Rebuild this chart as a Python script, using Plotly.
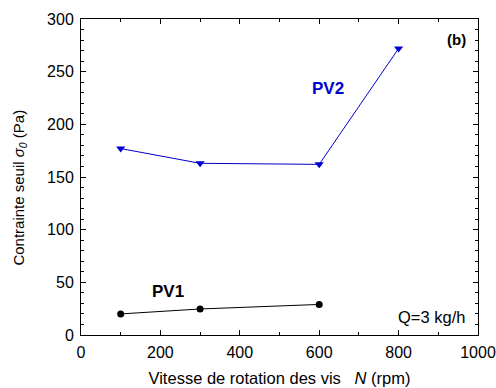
import plotly.graph_objects as go

N_pv1 = [100, 300, 600]
sigma_pv1 = [20, 24.7, 29]
N_pv2 = [100, 300, 600, 800]
sigma_pv2 = [177, 163, 162, 272]

FONT = "Liberation Sans, Arial, sans-serif"

fig = go.Figure()
fig.add_trace(go.Scatter(x=N_pv2, y=sigma_pv2, mode="lines+markers",
                         line=dict(color="#0000CC", width=1),
                         marker=dict(symbol="triangle-down", size=8, color="#0000CC"),
                         showlegend=False))
fig.add_trace(go.Scatter(x=N_pv1, y=sigma_pv1, mode="lines+markers",
                         line=dict(color="black", width=1),
                         marker=dict(symbol="circle", size=7, color="black"),
                         showlegend=False))

axis_common = dict(showgrid=False, zeroline=False, showline=True, linecolor="black",
                   linewidth=1, mirror="ticks", ticks="inside", ticklen=5, tickcolor="black",
                   automargin=False,
                   tickfont=dict(family=FONT, size=16, color="black"))

fig.update_xaxes(range=[0, 1000], dtick=200, tick0=0, ticklabelstandoff=3,
                 minor=dict(dtick=100, ticks="inside", ticklen=3, tickcolor="black"),
                 title=dict(text="Vitesse de rotation des vis   <i>N</i> (rpm)",
                            font=dict(family=FONT, size=16.5, color="black"), standoff=12),
                 **axis_common)
fig.update_yaxes(range=[0, 300], dtick=50, tick0=0, ticklabelstandoff=3,
                 minor=dict(dtick=10, ticks="inside", ticklen=3, tickcolor="black"),
                 **axis_common)

fig.add_annotation(x=-0.154, y=0.466, xref="paper", yref="paper",
                   text="Contrainte seuil <i>σ<sub>0</sub></i> (Pa)", textangle=-90,
                   showarrow=False, xanchor="center", yanchor="middle",
                   font=dict(family=FONT, size=15, color="black"))
fig.add_annotation(x=0.974, y=0.934, xref="paper", yref="paper", text="<b>(b)</b>",
                   showarrow=False, xanchor="right", yanchor="middle",
                   font=dict(family=FONT, size=15, color="black"))
fig.add_annotation(x=622, y=234, text="<b>PV2</b>", showarrow=False,
                   font=dict(family=FONT, size=17, color="#0000CC"))
fig.add_annotation(x=219, y=41, text="<b>PV1</b>", showarrow=False,
                   font=dict(family=FONT, size=17, color="black"))
fig.add_annotation(x=0.972, y=0.058, xref="paper", yref="paper", text="Q=3 kg/h",
                   showarrow=False, xanchor="right", yanchor="middle",
                   font=dict(family=FONT, size=16.5, color="black"))

fig.update_layout(width=496, height=388, margin=dict(l=81, r=18, t=19, b=53),
                  plot_bgcolor="white", paper_bgcolor="white")

fig.write_html("out.html")
